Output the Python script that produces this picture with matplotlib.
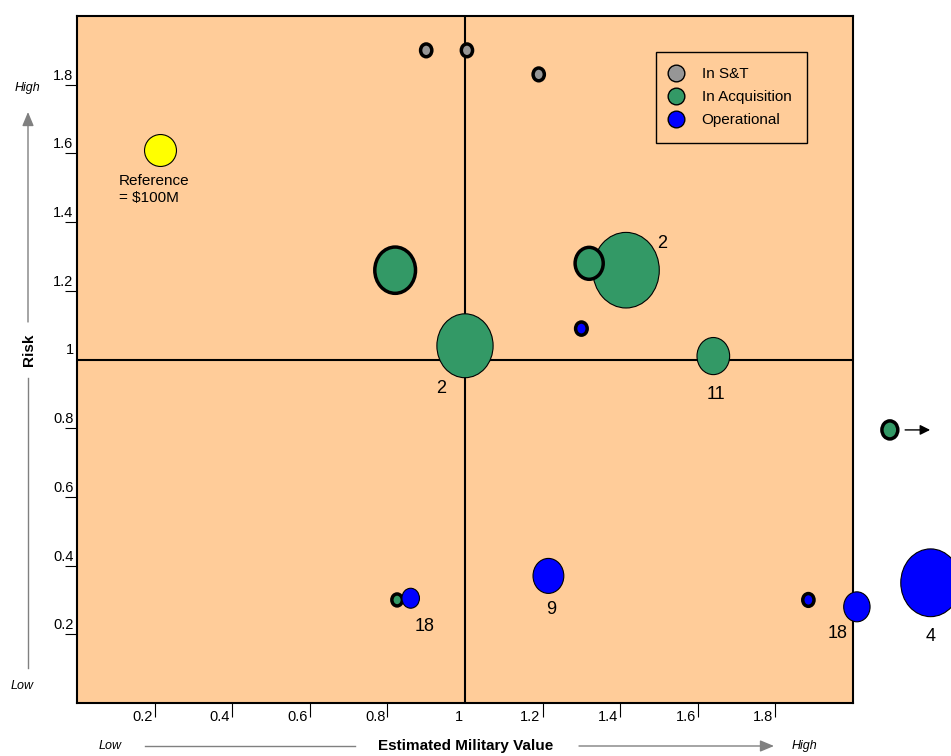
import numpy as np
import matplotlib
matplotlib.use('Agg')
import matplotlib.pyplot as plt
from matplotlib.path import Path
from matplotlib.lines import Line2D
from matplotlib.transforms import Affine2D

plt.rcParams['font.family'] = ['Liberation Sans', 'DejaVu Sans']

# axis ticks
ticks = [0.2, 0.4, 0.6, 0.8, 1.0, 1.2, 1.4, 1.6, 1.8]
tick_labels = ['0.2', '0.4', '0.6', '0.8', '1', '1.2', '1.4', '1.6', '1.8']

groups = ['In S&T', 'In Acquisition', 'Operational']

# In S&T
st_x = [0.90, 1.005, 1.19]
st_y = [1.90, 1.90, 1.83]
st_cost = [16, 16, 16]
st_bold = [True, True, True]
st_num = ['', '', '']

# In Acquisition
acq_x = [1.415, 1.32, 0.82, 1.00, 1.64, 0.825, 2.095]
acq_y = [1.26, 1.28, 1.26, 1.04, 1.01, 0.30, 0.795]
acq_cost = [560, 100, 210, 400, 135, 14, 32]
acq_bold = [False, True, True, False, False, True, True]
acq_num = ['2', '', '', '2', '11', '', '']

# Operational
op_x = [1.30, 0.86, 1.215, 1.885, 2.01, 2.20]
op_y = [1.09, 0.305, 0.37, 0.30, 0.28, 0.35]
op_cost = [17, 39, 120, 16, 88, 450]
op_bold = [True, False, False, True, False, False]
op_num = ['', '18', '9', '', '18', '4']

# reference bubble ($100M)
ref_x, ref_y, ref_cost = 0.215, 1.61, 100

bg = '#FFCC99'
colors = ['#969696', '#339966', '#0000FF']

fig = plt.figure(figsize=(9.51, 7.56), dpi=100)
ax = fig.add_axes([77 / 951, 1 - 703 / 756, 776 / 951, 687 / 756])
ax.set_facecolor(bg)
ax.set_xlim(0, 2)
ax.set_ylim(0, 2)
for s in ax.spines.values():
    s.set_linewidth(1.5)

ax.axvline(1, color='black', lw=1.5, zorder=1)
ax.axhline(1, color='black', lw=1.5, zorder=1)

# slightly tall elliptical bubble marker
ell = Path.unit_circle().transformed(Affine2D().scale(0.88, 1.0))
s_ref = 23.0 ** 2  # marker area for $100M


def sizes(cost):
    return [s_ref * c / ref_cost for c in cost]


# label offsets (points) for the numbered bubbles
num_off = {
    (1, 0): (26, 19), (1, 3): (-17, -31), (1, 4): (2, -28),
    (2, 1): (10, -20), (2, 2): (2, -24), (2, 4): (-14, -19), (2, 5): (0, -39),
}

data = [(st_x, st_y, st_cost, st_bold, st_num),
        (acq_x, acq_y, acq_cost, acq_bold, acq_num),
        (op_x, op_y, op_cost, op_bold, op_num)]

for g, (xs, ys, cost, bold, num) in enumerate(data):
    lws = [2.5 if b else 0.8 for b in bold]
    ax.scatter(xs, ys, s=sizes(cost), marker=ell, c=colors[g],
               edgecolors='black', linewidths=lws, zorder=3, clip_on=False)
    for i, lab in enumerate(num):
        if lab:
            ax.annotate(lab, (xs[i], ys[i]), xytext=num_off[(g, i)],
                        textcoords='offset points', ha='center', va='center',
                        fontsize=13, annotation_clip=False)

# arrow for the acquisition bubble off the chart
ax.annotate('', xy=(acq_x[6], acq_y[6]), xytext=(29, 0), textcoords='offset points',
            arrowprops=dict(arrowstyle='<|-,head_length=0.5,head_width=0.25',
                            color='black', lw=1, mutation_scale=12,
                            shrinkA=0, shrinkB=11),
            annotation_clip=False)

# reference bubble
ax.scatter([ref_x], [ref_y], s=[s_ref], marker='o', c='#FFFF00',
           edgecolors='black', linewidths=0.8, zorder=3)
ax.annotate('Reference\n= $100M', (ref_x, ref_y), xytext=(-30, -17),
            textcoords='offset points', ha='left', va='top', fontsize=11,
            linespacing=1.3)

# ticks
ax.set_xticks(ticks)
ax.set_yticks(ticks)
ax.set_xticklabels([])
ax.set_yticklabels([])
ax.tick_params(axis='x', direction='out', length=10, width=0.8)
ax.tick_params(axis='y', direction='out', length=9, width=0.8)
for t, v in zip(ax.xaxis.get_major_ticks(), ticks):
    if v == 1.0:
        t.tick1line.set_visible(False)
for t, v in zip(ax.yaxis.get_major_ticks(), ticks):
    if v == 1.0:
        t.tick1line.set_visible(False)
for v, lab in zip(ticks, tick_labels):
    ax.annotate(lab, xy=(v, 0), xycoords=('data', 'axes fraction'),
                xytext=(-1.5, -5), textcoords='offset points',
                ha='right', va='top', fontsize=10.5)
    ax.annotate(lab, xy=(0, v), xycoords=('axes fraction', 'data'),
                xytext=(-2.5, 1.5), textcoords='offset points',
                ha='right', va='bottom', fontsize=10.5)

# legend
handles = [Line2D([], [], ls='none', marker='o', ms=12, mfc=c, mec='black', mew=1)
           for c in colors]
leg = ax.legend(handles, groups, loc='upper left', bbox_to_anchor=(0.746, 0.948),
                borderaxespad=0, fancybox=False, edgecolor='black', facecolor=bg,
                framealpha=1, fontsize=11, handlelength=0.6, handletextpad=1.4,
                labelspacing=0.6, borderpad=1.0)
leg.get_frame().set_linewidth(1)


# outer axis captions with arrows (figure pixel positions)
def fx(px):
    return px / 951


def fy(py):
    return 1 - py / 756


grey = '#808080'
head = '-|>,head_length=0.6,head_width=0.25'

fig.text(fx(29), fy(350), 'Risk', rotation=90, fontweight='bold', fontsize=11,
         ha='center', va='center')
fig.text(fx(27), fy(88), 'High', style='italic', fontsize=9, ha='center', va='center')
fig.text(fx(22), fy(686), 'Low', style='italic', fontsize=9, ha='center', va='center')
fig.add_artist(Line2D([fx(28), fx(28)], [fy(378), fy(668)], color=grey, lw=1))
ax.annotate('', xy=(fx(28), fy(112)), xytext=(fx(28), fy(322)),
            xycoords='figure fraction', textcoords='figure fraction',
            arrowprops=dict(arrowstyle=head, color=grey, lw=1, mutation_scale=14,
                            shrinkA=0, shrinkB=0), annotation_clip=False)

fig.text(fx(110), fy(746), 'Low', style='italic', fontsize=9, ha='center', va='center')
fig.text(fx(466), fy(746), 'Estimated Military Value', fontweight='bold', fontsize=11,
         ha='center', va='center')
fig.text(fx(804), fy(746), 'High', style='italic', fontsize=9, ha='center', va='center')
fig.add_artist(Line2D([fx(145), fx(355)], [fy(746), fy(746)], color=grey, lw=1))
ax.annotate('', xy=(fx(774), fy(746)), xytext=(fx(579), fy(746)),
            xycoords='figure fraction', textcoords='figure fraction',
            arrowprops=dict(arrowstyle=head, color=grey, lw=1, mutation_scale=14,
                            shrinkA=0, shrinkB=0), annotation_clip=False)

fig.savefig('out.png', dpi=100)
